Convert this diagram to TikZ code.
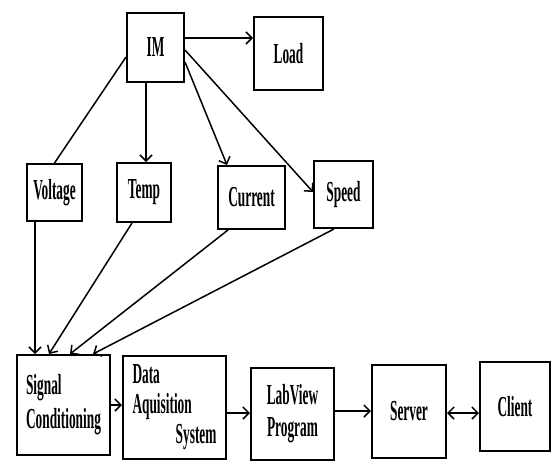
\documentclass[tikz,border=0pt]{standalone}
\usepackage{fontspec}
\setmainfont{Liberation Serif}[FakeStretch=0.46]
\usetikzlibrary{arrows.meta,calc}

\begin{document}
\begin{tikzpicture}[x=1pt, y=-1pt, line width=1.5pt,
    box/.style={draw, line width=2pt, inner sep=0pt, font=\bfseries\fontsize{29}{32}\selectfont},
    conn/.style={-{Straight Barb[length=6pt,width=12pt]}, line width=1.5pt}]
\useasboundingbox (0,0) rectangle (551,461);

% top row
\node[box, minimum width=57pt, minimum height=69pt] (im) at (155.5,47.5) {IM};
\node[box, minimum width=69pt, minimum height=73pt] (load) at (288.5,53.5) {Load};

% measured quantities
\node[box, minimum width=55pt, minimum height=57pt] (volt) at (54.5,192.5) {Voltage};
\node[box, minimum width=54pt, minimum height=59pt] (temp) at (144,192.5) {Temp};
\node[box, minimum width=67pt, minimum height=63pt] (curr) at (251.5,197.5) {Current};
\node[box, minimum width=59pt, minimum height=67pt] (speed) at (343.5,194.5) {Speed};

% bottom chain
\node[box, minimum width=93pt, minimum height=100pt, align=left] (sc) at (63.5,405) {Signal\\[2pt]Conditioning};
\node[box, minimum width=103pt, minimum height=103pt, text width=84pt, align=left] (das) at (174.5,407.5)
    {Data\\[-2pt]Aquisition\\[-2pt]\mbox{}\hfill System};
\node[box, minimum width=83pt, minimum height=92pt, align=center] (lv) at (292.5,414) {LabView\\Program};
\node[box, minimum width=74pt, minimum height=93pt] (server) at (409,411.5) {Server};
\node[box, minimum width=70pt, minimum height=89pt] (client) at (515,406.5) {Client};

% from the motor
\draw[conn] ([yshift=9.5pt]im.east) -- ([yshift=9.5pt]im.east -| load.west);
\draw ([yshift=-9.5pt]im.west) -- (volt.north);
\draw[conn] ([xshift=2pt]temp.north |- im.south) -- ([xshift=2pt]temp.north);
\draw[conn] ([yshift=-14.5pt]im.east) -- ([xshift=-24.5pt]curr.north);
\draw[conn] ([yshift=-2.5pt]im.east) -- ([yshift=2.5pt]speed.west);

% into signal conditioning
\draw[conn] ([xshift=-19.5pt]volt.south) -- ([xshift=-19.5pt]volt.south |- sc.north);
\draw[conn] ([xshift=-12pt]temp.south) -- ([xshift=-14.5pt]sc.north);
\draw[conn] ([xshift=-23.5pt]curr.south) -- ([xshift=6.5pt]sc.north);
\draw[conn] ([xshift=-9.5pt]speed.south) -- ([xshift=29.5pt]sc.north);

% chain
\draw[conn] (sc.east) -- (sc.east -| das.west);
\draw[conn] ([yshift=-5.5pt]das.east) -- ([yshift=-5.5pt]das.east -| lv.west);
\draw[conn] ([yshift=3pt]lv.east) -- ([yshift=3pt]lv.east -| server.west);
\draw[conn, {Straight Barb[length=6pt,width=12pt]}-{Straight Barb[length=6pt,width=12pt]}] ([yshift=-1.5pt]server.east) -- ([yshift=-1.5pt]server.east -| client.west);
\end{tikzpicture}
\end{document}
